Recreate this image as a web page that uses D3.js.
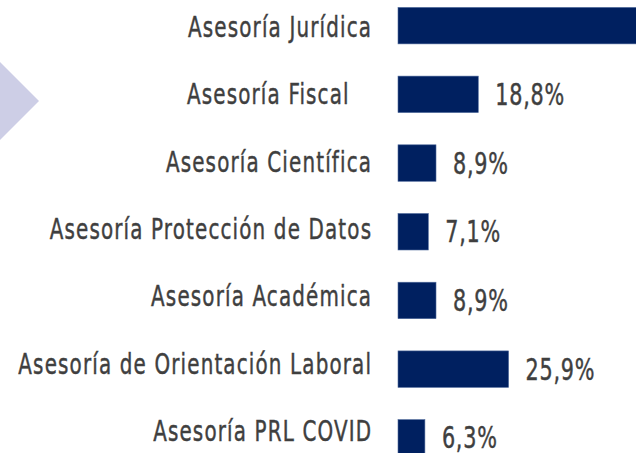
<!DOCTYPE html>
<html>
<head>
<meta charset="utf-8">
<script src="https://cdn.jsdelivr.net/npm/d3@7"></script>
<style>
  html, body { margin: 0; padding: 0; background: #fff; }
  svg { display: block; }
  text { white-space: pre; }
</style>
</head>
<body>
<svg width="636" height="453"></svg>
<script>
const categories = [
  'Asesoría Jurídica',
  'Asesoría Fiscal   ',
  'Asesoría Científica',
  'Asesoría Protección de Datos',
  'Asesoría Académica',
  'Asesoría de Orientación Laboral',
  'Asesoría PRL COVID'
];
const values = [60.7, 18.8, 8.9, 7.1, 8.9, 25.9, 6.3];
const valueLabels = ['60,7%', '18,8%', '8,9%', '7,1%', '8,9%', '25,9%', '6,3%'];

const W = 636, H = 453;
const fontFam = '"DejaVu Sans Condensed", "DejaVu Sans", sans-serif';

const svg = d3.select('svg');

// decorative arrow tip on the left
svg.append('polygon')
    .attr('points', '0,62 39,101 0,140')
    .attr('fill', '#cdcee6');

const data = categories.map((c, i) => ({ cat: c, value: values[i], label: valueLabels[i] }));

const xScale = d3.scaleLinear()
    .domain([0, 100])
    .range([398, 398 + 427]);

const step = 68.7;
const yScale = d3.scaleBand()
    .domain(categories)
    .range([-8.7, -8.7 + step * categories.length])
    .paddingInner(0.469)
    .paddingOuter(0.2345);

// category labels sit on their own slightly tighter line spacing
const labelY = d3.scalePoint()
    .domain(categories)
    .range([37, 441]);

svg.selectAll('rect.bar')
    .data(data)
    .enter()
    .append('rect')
    .attr('class', 'bar')
    .attr('x', xScale(0))
    .attr('y', d => yScale(d.cat))
    .attr('width', d => xScale(d.value) - xScale(0))
    .attr('height', yScale.bandwidth())
    .attr('fill', '#002060')
    .attr('stroke', '#4f6a9c')
    .attr('stroke-width', 0.6);

// condensed look: tracked text squeezed horizontally
const lsCat = 1.5;
const catText = svg.selectAll('text.cat')
    .data(data)
    .enter()
    .append('text')
    .attr('class', 'cat')
    .attr('text-anchor', 'end')
    .attr('font-family', fontFam)
    .attr('font-size', 28.5)
    .attr('letter-spacing', lsCat)
    .attr('fill', '#3f3f3f')
    .attr('stroke', '#3f3f3f')
    .attr('stroke-width', 0.45)
    .text(d => d.cat);

const longest = catText.filter(d => d.cat === 'Asesoría de Orientación Laboral').node();
const sx = 352.7 / (longest.getComputedTextLength() - lsCat);
catText.attr('transform', d => `translate(${371 + lsCat * sx}, ${labelY(d.cat)}) scale(${sx}, 1)`);

const valData = data.filter(d => xScale(d.value) + 17 < W);
const valText = svg.selectAll('text.val')
    .data(valData)
    .enter()
    .append('text')
    .attr('class', 'val')
    .attr('font-family', fontFam)
    .attr('font-size', 30.5)
    .attr('letter-spacing', 1)
    .attr('fill', '#3f3f3f')
    .attr('stroke', '#3f3f3f')
    .attr('stroke-width', 0.45)
    .text(d => d.label);

const ref = valText.filter(d => d.label === '18,8%').node();
const vx = 69 / (ref.getComputedTextLength() - 1);
valText.attr('transform', d =>
    `translate(${xScale(d.value) + 17}, ${yScale(d.cat) + yScale.bandwidth() / 2 + 10.5}) scale(${vx}, 1)`);
</script>
</body>
</html>
